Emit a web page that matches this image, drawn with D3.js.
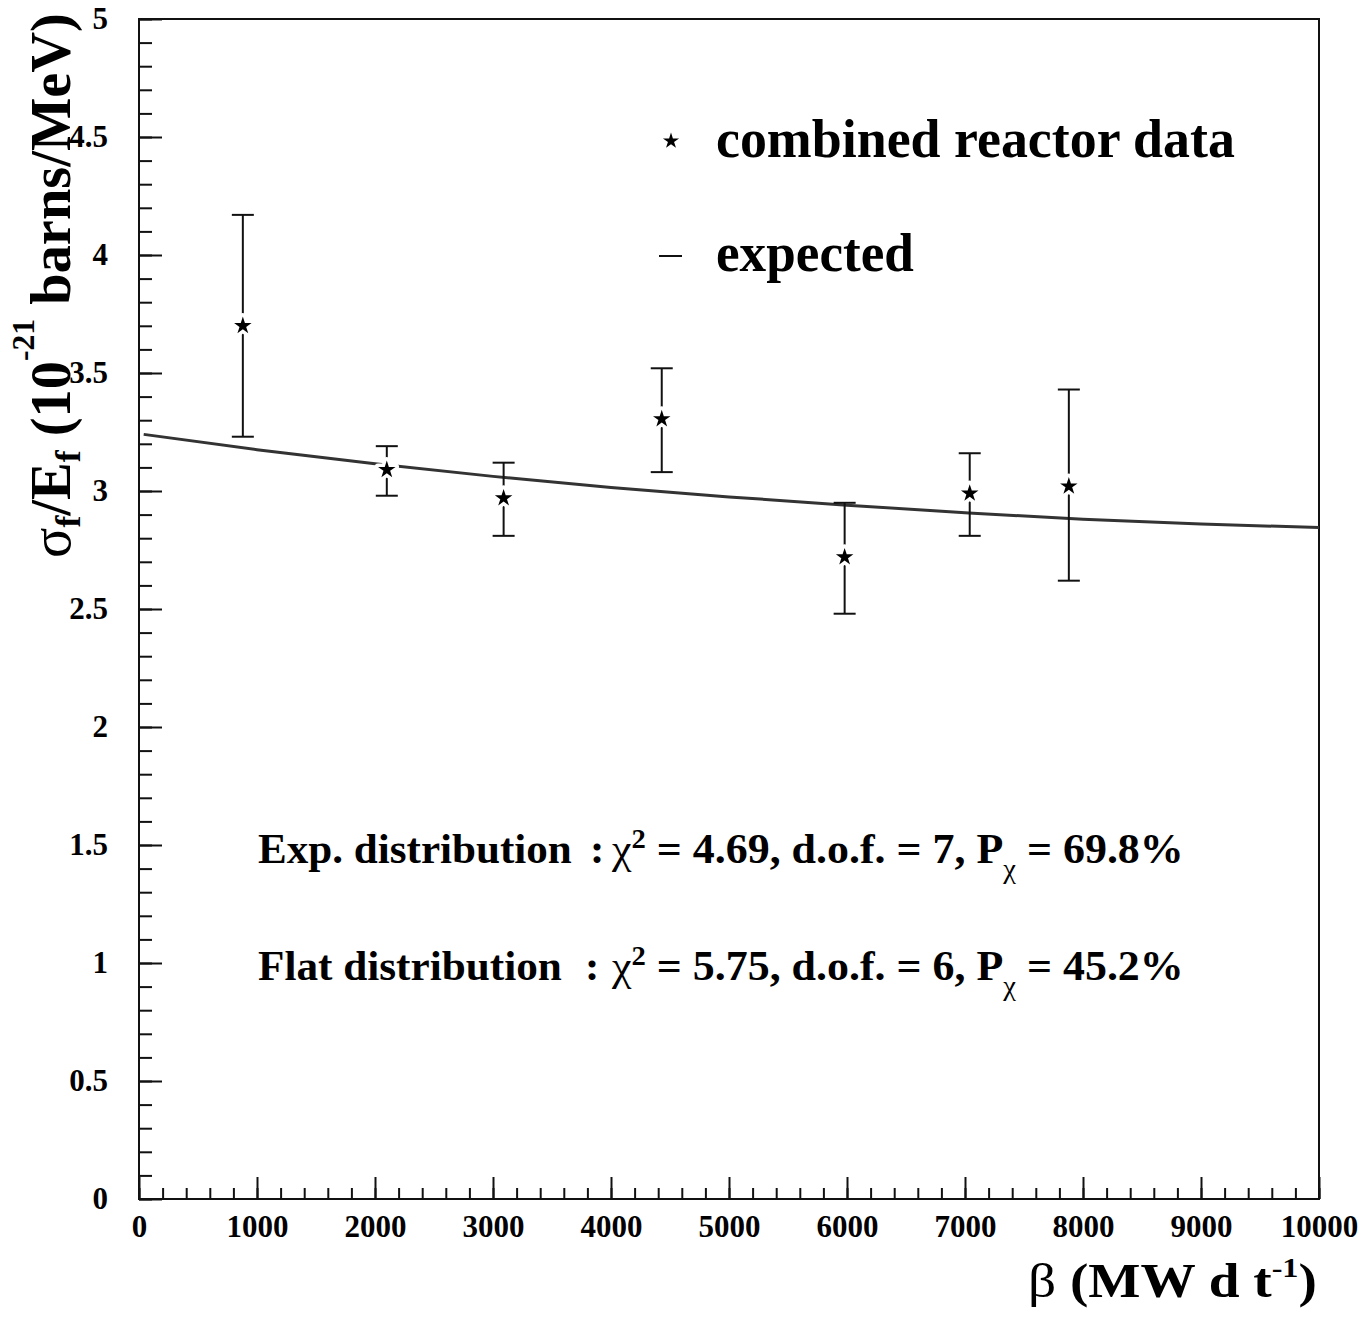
<!DOCTYPE html>
<html>
<head>
<meta charset="utf-8">
<script src="https://cdn.jsdelivr.net/npm/d3@7"></script>
<style>
  html, body { margin: 0; padding: 0; background: #fff; }
  svg { display: block; }
  text { font-family: "Liberation Serif", "Times New Roman", serif; font-weight: bold; fill: #000; }
</style>
</head>
<body>
<svg id="chart" width="1366" height="1317"></svg>
<script>
// ---------------- data ----------------
const beta      = [880, 2100, 3090, 4430, 5980, 7040, 7880];
const sigma     = [3.70, 3.09, 2.97, 3.305, 2.72, 2.99, 3.02];
const errHigh   = [4.17, 3.19, 3.12, 3.52, 2.95, 3.16, 3.43];
const errLow    = [3.23, 2.98, 2.81, 3.08, 2.48, 2.81, 2.62];

const expectedBeta  = [40, 1000, 2000, 3000, 4000, 5000, 6000, 7000, 8000, 9000, 10000];
const expectedSigma = [3.24, 3.175, 3.115, 3.062, 3.015, 2.975, 2.94, 2.908, 2.88, 2.86, 2.845];

const xTickValues = [0, 1000, 2000, 3000, 4000, 5000, 6000, 7000, 8000, 9000, 10000];
const yTickValues = [0, 0.5, 1, 1.5, 2, 2.5, 3, 3.5, 4, 4.5, 5];
const legendLabels = ["combined reactor data", "expected"];
const statNames = ["Exp. distribution", "Flat distribution"];
const statChi2 = ["4.69", "5.75"];
const statDof = ["7", "6"];
const statProb = ["69.8", "45.2"];

// ---------------- layout ----------------
const svg = d3.select("#chart");
const L = 139, R = 1319, T = 19, B = 1199;
const x = d3.scaleLinear().domain([0, 10000]).range([L, R]);
const y = d3.scaleLinear().domain([0, 5]).range([B, T]);

function fit(sel, x0, width) {
  const w = sel.node().getBBox().width;
  const k = width / w;
  sel.attr("transform", `translate(${x0},0) scale(${k},1) translate(${-x0},0)`);
}

// minor ticks
svg.append("g").attr("transform", `translate(${L},0)`)
  .call(d3.axisLeft(y).tickValues(d3.range(0, 51).map(d => d / 10)).tickSize(-13).tickFormat(""))
  .call(g => g.select(".domain").remove())
  .selectAll("line").attr("stroke", "#111").attr("stroke-width", 2);
svg.append("g").attr("transform", `translate(0,${B})`)
  .call(d3.axisBottom(x).tickValues(d3.range(0, 51).map(d => d * 200)).tickSize(-11).tickFormat(""))
  .call(g => g.select(".domain").remove())
  .selectAll("line").attr("stroke", "#111").attr("stroke-width", 2);

// major ticks + labels
const yAx = svg.append("g").attr("transform", `translate(${L},0)`)
  .call(d3.axisLeft(y).tickValues(yTickValues).tickSize(-23).tickPadding(31).tickFormat(d => String(d)));
yAx.select(".domain").remove();
yAx.selectAll("line").attr("stroke", "#111").attr("stroke-width", 2);
yAx.selectAll("text").style("font-family", '"Liberation Serif", serif').style("font-weight", "bold").style("font-size", "31px").attr("fill", "#000");

const xAx = svg.append("g").attr("transform", `translate(0,${B})`)
  .call(d3.axisBottom(x).tickValues(xTickValues).tickSize(-22).tickPadding(16).tickFormat(d => String(d)));
xAx.select(".domain").remove();
xAx.selectAll("line").attr("stroke", "#111").attr("stroke-width", 2);
xAx.selectAll("text").style("font-family", '"Liberation Serif", serif').style("font-weight", "bold").style("font-size", "31px").attr("fill", "#000");

// frame
svg.append("rect").attr("x", L).attr("y", T).attr("width", R - L).attr("height", B - T)
  .attr("fill", "none").attr("stroke", "#111").attr("stroke-width", 2);

// expected curve
const lineGen = d3.line().x(d => x(d[0])).y(d => y(d[1])).curve(d3.curveMonotoneX);
svg.append("path")
  .datum(expectedBeta.map((b, i) => [b, expectedSigma[i]]))
  .attr("d", lineGen).attr("fill", "none").attr("stroke", "#333").attr("stroke-width", 3);

// error bars
const pts = beta.map((b, i) => ({ b, s: sigma[i], hi: errHigh[i], lo: errLow[i] }));
const eb = svg.append("g").attr("stroke", "#111").attr("stroke-width", 2);
eb.selectAll(".v").data(pts).join("line")
  .attr("x1", d => x(d.b)).attr("x2", d => x(d.b)).attr("y1", d => y(d.hi)).attr("y2", d => y(d.lo));
eb.selectAll(".ct").data(pts).join("line")
  .attr("x1", d => x(d.b) - 11).attr("x2", d => x(d.b) + 11).attr("y1", d => y(d.hi)).attr("y2", d => y(d.hi));
eb.selectAll(".cb").data(pts).join("line")
  .attr("x1", d => x(d.b) - 11).attr("x2", d => x(d.b) + 11).attr("y1", d => y(d.lo)).attr("y2", d => y(d.lo));

// stars
const star = d3.symbol(d3.symbolStar, 95);
svg.append("g").selectAll("path").data(pts).join("path")
  .attr("d", star).attr("transform", d => `translate(${x(d.b)},${y(d.s)})`)
  .attr("fill", "#fff").attr("stroke", "#fff").attr("stroke-width", 7).attr("stroke-linejoin", "round");
svg.append("g").selectAll("path").data(pts).join("path")
  .attr("d", star).attr("transform", d => `translate(${x(d.b)},${y(d.s)})`)
  .attr("fill", "#000");

// legend
svg.append("path").attr("d", d3.symbol(d3.symbolStar, 80)()).attr("transform", "translate(671,141)").attr("fill", "#000");
svg.append("line").attr("x1", 659).attr("x2", 682).attr("y1", 256).attr("y2", 256).attr("stroke", "#111").attr("stroke-width", 2);
const lg1 = svg.append("text").attr("x", 716).attr("y", 157).style("font-size", "54px").text(legendLabels[0]);
fit(lg1, 716, 519);
const lg2 = svg.append("text").attr("x", 716).attr("y", 271).style("font-size", "54px").text(legendLabels[1]);
fit(lg2, 716, 198);

// stats text
const statBase = [863, 980];
const colonX = [590, 585];
const nameW = [314, 304];
statNames.forEach((nm, i) => {
  const by = statBase[i];
  const t1 = svg.append("text").attr("x", 258).attr("y", by).style("font-size", "43px").text(nm);
  fit(t1, 258, nameW[i]);
  svg.append("text").attr("x", colonX[i]).attr("y", by).style("font-size", "43px").text(":");
  const t2 = svg.append("text").attr("x", 612).attr("y", by).style("font-size", "43px");
  t2.append("tspan").style("font-weight", "normal").text("χ");
  t2.append("tspan").attr("dy", -15).style("font-size", "28px").text("2");
  t2.append("tspan").attr("dy", 15).text(` = ${statChi2[i]}, d.o.f. = ${statDof[i]}, P`);
  t2.append("tspan").attr("dy", 15).style("font-size", "28px").style("font-weight", "normal").text("χ");
  t2.append("tspan").attr("dy", -15).text(` = ${statProb[i]}%`);
  fit(t2, 612, 573);
});

// y-axis title
const gy = svg.append("g").attr("transform", "translate(70,558) rotate(-90)");
const ty = gy.append("text").attr("x", 0).attr("y", 0).style("font-size", "57px");
ty.append("tspan").style("font-weight", "normal").text("σ");
ty.append("tspan").attr("dy", 10).style("font-size", "36px").text("f");
ty.append("tspan").attr("dy", -10).text("/E");
ty.append("tspan").attr("dy", 10).style("font-size", "36px").text("f");
ty.append("tspan").attr("dy", -10).text(" (10");
ty.append("tspan").attr("dy", -36).style("font-size", "32px").text("-21");
ty.append("tspan").attr("dy", 36).text(" barns/MeV)");
fit(ty, 0, 545);

// x-axis title
const tx = svg.append("text").attr("x", 1028).attr("y", 1297).style("font-size", "48px");
tx.append("tspan").style("font-weight", "normal").text("β");
tx.append("tspan").text(" (MW d t");
tx.append("tspan").attr("dy", -20).style("font-size", "28px").text("-1");
tx.append("tspan").attr("dy", 20).text(")");
fit(tx, 1028, 289);
</script>
</body>
</html>
